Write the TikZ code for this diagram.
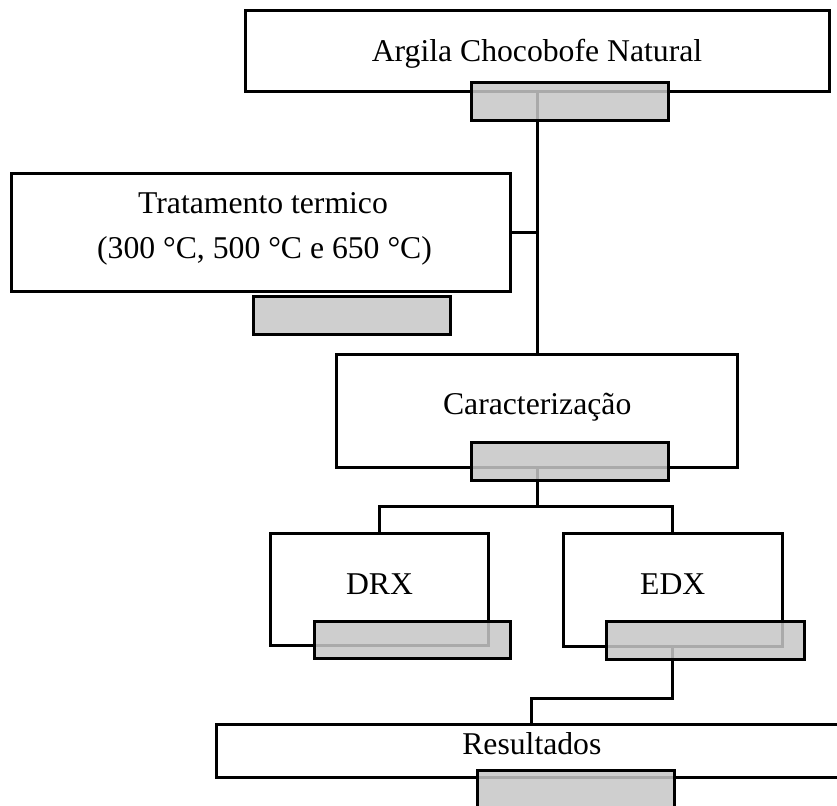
\documentclass[tikz,border=0pt]{standalone}
\usepackage{fontspec}
\setmainfont{Liberation Serif}
\definecolor{greyfill}{RGB}{199,199,199}
\begin{document}
\begin{tikzpicture}[x=1pt,y=-1pt,
  wbox/.style={draw=black, line width=3pt, fill=white, inner sep=0pt, rectangle},
  gbox/.style={draw=black, line width=3pt, fill=greyfill, fill opacity=0.86, draw opacity=1, inner sep=0pt, rectangle},
  conn/.style={draw=black, line width=3pt},
  lbl/.style={font=\fontsize{31.7}{38}\selectfont, anchor=base, inner sep=0pt}]
\useasboundingbox (0,0) rectangle (837,805);
\clip (0,0) rectangle (837,805);
% white boxes
\node[wbox, minimum width=584pt, minimum height=80.5pt] (top) at (537,51.25) {};
\node[wbox, minimum width=499pt, minimum height=117.7pt] (trat) at (261.2,232.15) {};
\node[wbox, minimum width=401pt, minimum height=112.7pt] (carac) at (537.2,410.65) {};
\node[wbox, minimum width=217.6pt, minimum height=112pt] (drx) at (379.5,589.3) {};
\node[wbox, minimum width=219pt, minimum height=112.7pt] (edx) at (672.8,589.65) {};
\node[wbox, minimum width=630.3pt, minimum height=53.4pt] (res) at (531.85,751) {};
% labels
\node[lbl] (ltop) at (537,62) {Argila Chocobofe Natural};
\node[lbl] (ltrat1) at (263,213.5) {Tratamento termico};
\node[lbl] (ltrat2) at (264.5,258) {(300 °C, 500 °C e 650 °C)};
\node[lbl] (lcarac) at (537.2,414) {Caracterização};
\node[lbl] (ldrx) at (379.5,594.5) {DRX};
\node[lbl] (ledx) at (672.8,594.5) {EDX};
\node[lbl] (lres) at (531.85,754.5) {Resultados};
% connectors
\coordinate (j1) at (537,506);
\coordinate (j2) at (600,698);
\draw[conn] (top.south) -- (top.south |- carac.north);
\draw[conn] (trat.east) -- (trat.east -| top.south);
\draw[conn] (carac.south) -- (carac.south |- j1);
\draw[conn] (drx.north) |- (j1) -| (edx.north);
\draw[conn] (edx.south) -- (edx.south |- j2) -| (res.north);
% grey boxes
\node[gbox, minimum width=197pt, minimum height=38pt] (g1) at (569.5,101.85) {};
\node[gbox, minimum width=197.7pt, minimum height=38pt] (g2) at (351.85,315) {};
\node[gbox, minimum width=196.6pt, minimum height=37.7pt] (g3) at (570,461.15) {};
\node[gbox, minimum width=196pt, minimum height=37.3pt] (g4) at (412,639.65) {};
\node[gbox, minimum width=197.6pt, minimum height=38pt] (g5) at (705.5,640) {};
\node[gbox, minimum width=196.3pt, minimum height=38pt] (g6) at (575.85,789.7) {};
\end{tikzpicture}
\end{document}
